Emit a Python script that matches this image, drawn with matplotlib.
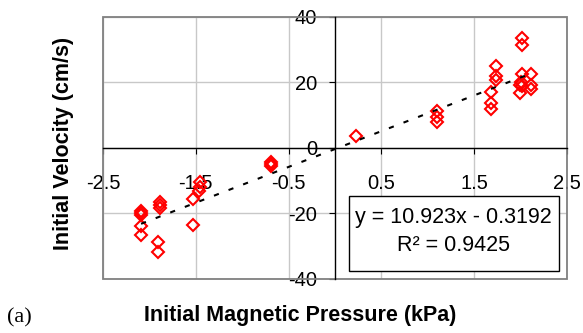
import numpy as np
import matplotlib.pyplot as plt
from matplotlib.patches import Rectangle

plt.rcParams['font.family'] = ['Liberation Sans', 'DejaVu Sans']
plt.rcParams['axes.unicode_minus'] = False

# data
pressure = [0.23,
            1.10, 1.10, 1.10,
            1.68, 1.68, 1.68,
            1.74, 1.74, 1.74,
            2.02, 2.02, 2.02, 2.00, 1.99, 2.01, 1.99,
            2.11, 2.11, 2.11,
            -0.69, -0.69, -0.69,
            -1.45, -1.45, -1.47,
            -1.53, -1.53,
            -1.89, -1.89, -1.89,
            -2.09, -2.09, -2.09, -2.09, -2.09,
            -1.91, -1.91]
velocity = [3.7,
            11.2, 9.4, 7.9,
            17.0, 13.7, 12.0,
            25.0, 21.9, 20.8,
            33.5, 31.4, 22.6, 20.2, 19.3, 18.8, 16.8,
            22.6, 19.2, 18.0,
            -4.2, -4.9, -5.6,
            -10.5, -12.0, -13.0,
            -15.5, -23.4,
            -16.6, -17.5, -18.2,
            -19.1, -19.8, -20.5, -23.7, -26.7,
            -28.8, -31.8]

slope = 10.923
intercept = -0.3192
r2 = 0.9425

xticks = [-2.5, -1.5, -0.5, 0.5, 1.5, 2.5]
yticks = [-40, -20, 0, 20, 40]

fig = plt.figure(figsize=(5.83, 3.33), dpi=100)
ax = fig.add_axes([0.1767, 0.1622, 0.7959, 0.7868])

ax.plot(pressure, velocity, 'D', ms=6, mfc='none', mec='red', mew=1.5,
        zorder=3, clip_on=False)

xfit = np.array([min(pressure), max(pressure)])
ax.plot(xfit, slope * xfit + intercept, color='black', lw=1.5,
        dashes=(2.5, 5), zorder=4)

ax.set_xlim(-2.5, 2.5)
ax.set_ylim(-40, 40)
ax.set_xticks(xticks)
ax.set_xticklabels([f'{v:g}' for v in xticks])
ax.set_yticks(yticks)
ax.grid(True, color='#c8c8c8', lw=1)
ax.set_axisbelow(True)

# axes crossing at zero, grey frame round the plot area
ax.spines['left'].set_position('zero')
ax.spines['bottom'].set_position('zero')
ax.spines['left'].set_color('black')
ax.spines['bottom'].set_color('black')
ax.spines['left'].set_linewidth(1)
ax.spines['bottom'].set_linewidth(1)
ax.spines['top'].set_visible(False)
ax.spines['right'].set_visible(False)
ax.add_patch(Rectangle((0, 0), 1, 1, transform=ax.transAxes, fill=False,
                       edgecolor='#808080', lw=1.3, clip_on=False, zorder=1))

ax.tick_params(axis='x', direction='out', length=4, pad=15, labelsize=14.5)
ax.tick_params(axis='y', direction='out', length=4, pad=9, labelsize=14.5)

# equation box
ax.add_patch(Rectangle((0.530, 0.031), 0.453, 0.287, transform=ax.transAxes,
                       facecolor='white', edgecolor='black', lw=1, zorder=5))
ax.text(0.756, 0.235, f'y = {slope}x - {abs(intercept)}', transform=ax.transAxes,
        ha='center', va='center', fontsize=15.5, zorder=6)
ax.text(0.756, 0.126, f'R\u00b2 = {r2}', transform=ax.transAxes,
        ha='center', va='center', fontsize=15.5, zorder=6)

fig.text(300 / 583, 1 - 316 / 333, 'Initial Magnetic Pressure (kPa)',
         ha='center', va='center', fontsize=15.5, fontweight='bold')
fig.text(63 / 583, 1 - 143 / 333, 'Initial Velocity (cm/s)', rotation=90,
         ha='center', va='center', fontsize=15.5, fontweight='bold')
fig.text(19 / 583, 1 - 318 / 333, '(a)', ha='center', va='center',
         fontsize=16, family='Liberation Serif')

fig.savefig('out.png', dpi=100)
